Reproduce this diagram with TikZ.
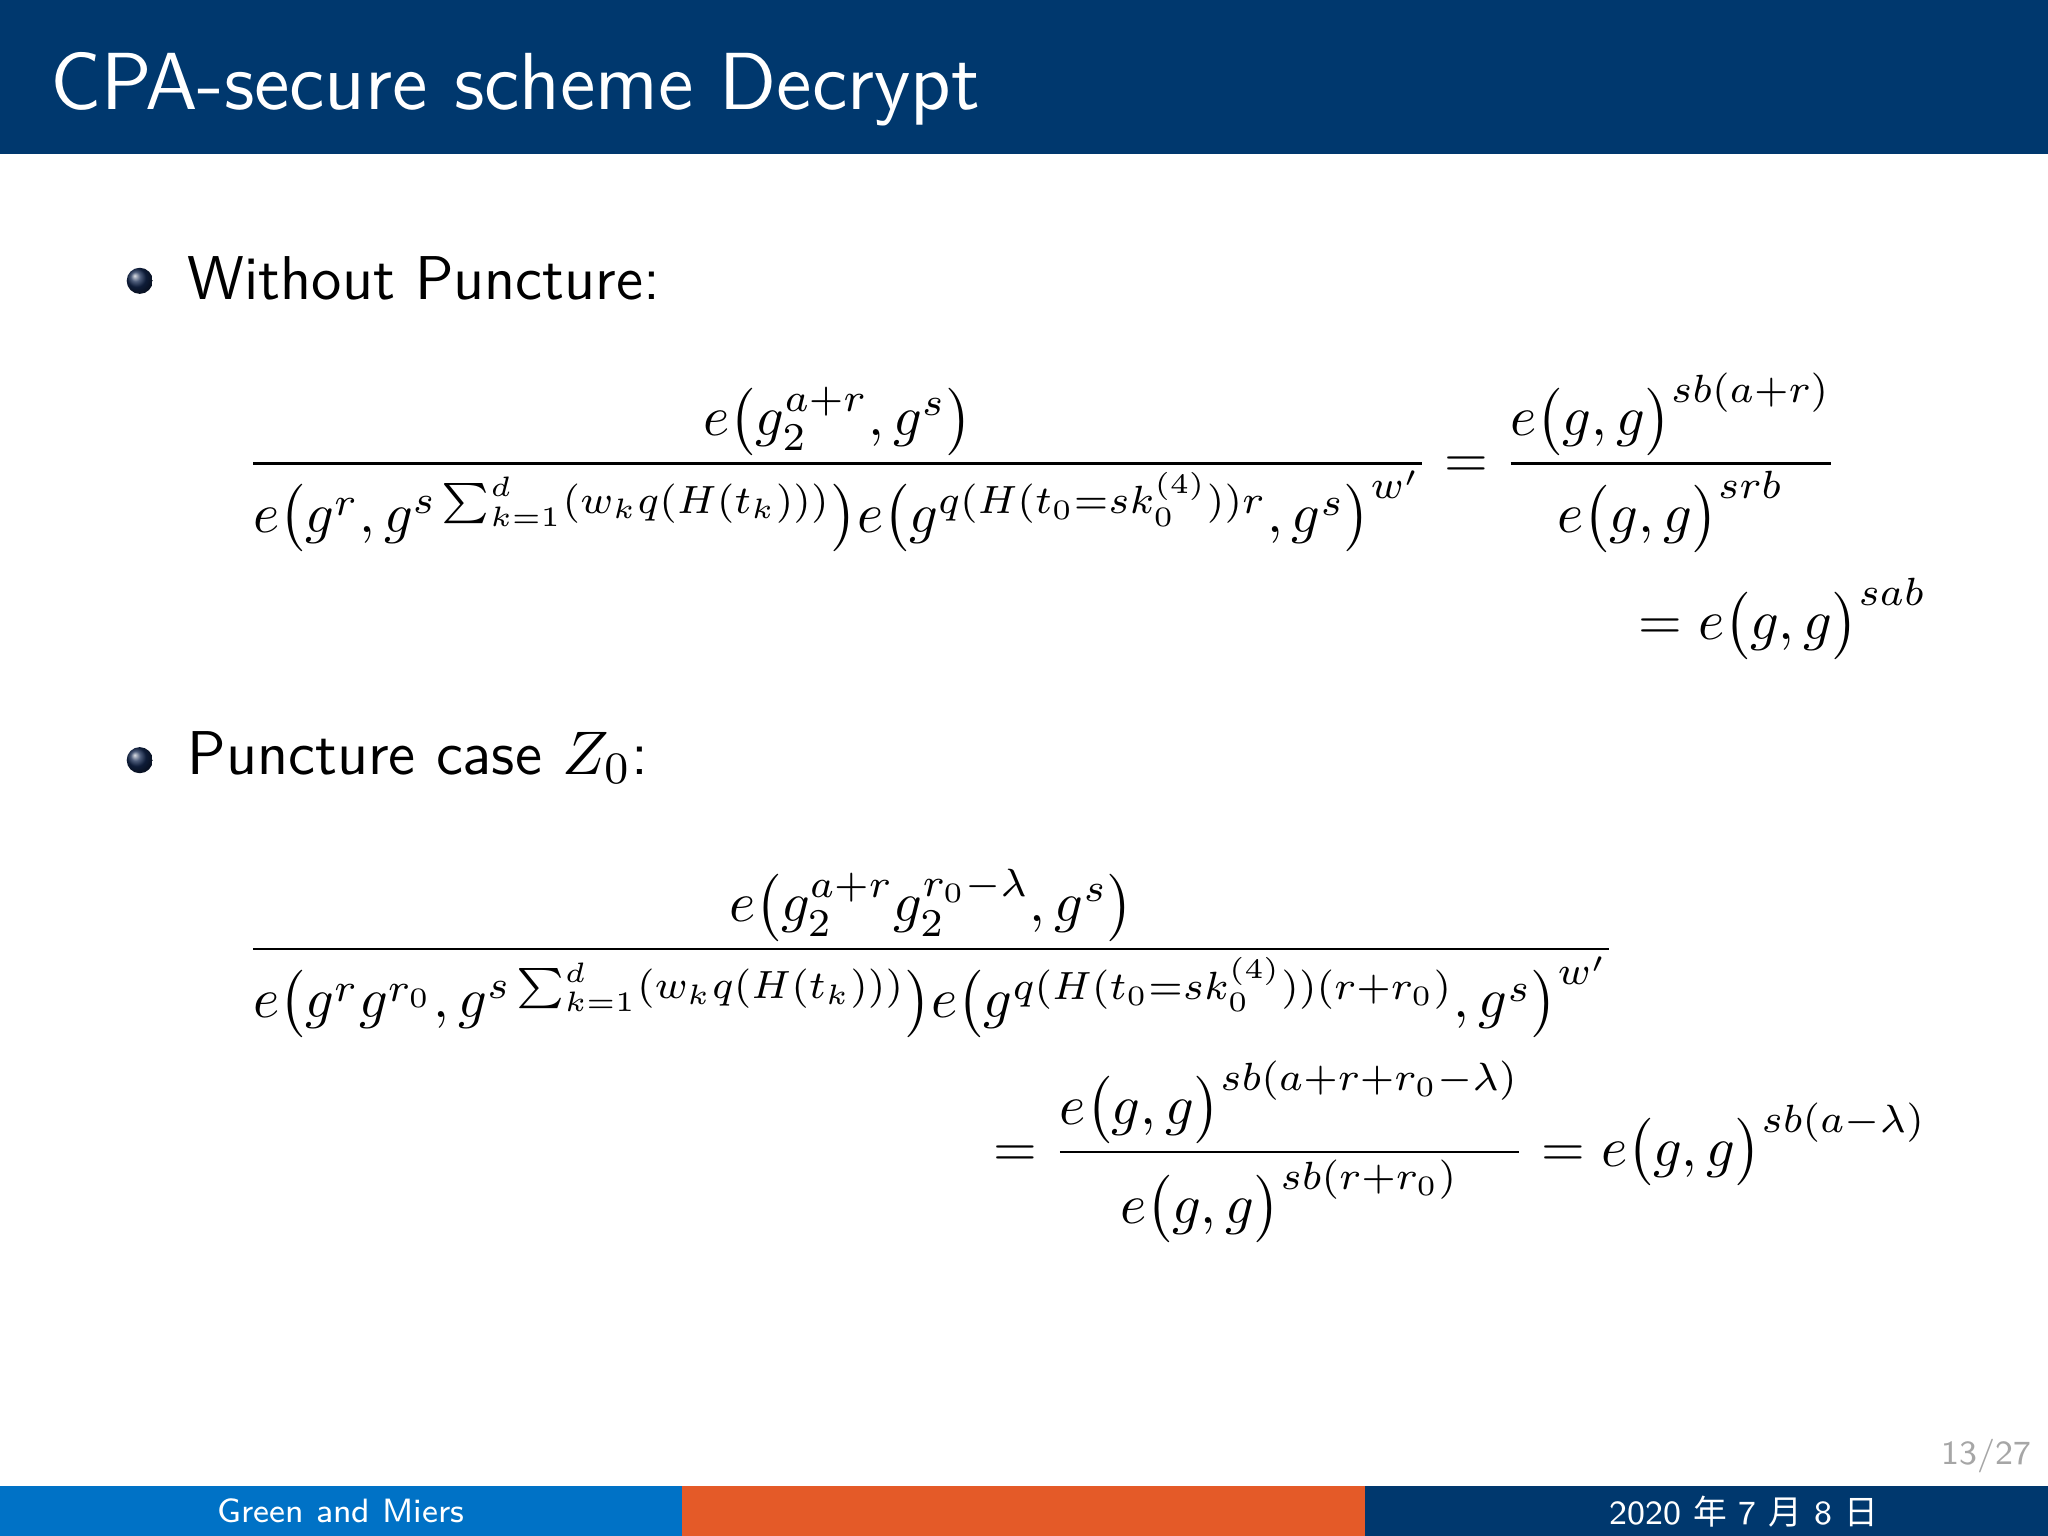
\documentclass[tikz,border=0pt]{standalone}
\usepackage{amsmath}
\usepackage{fontspec}
\newfontfamily\cjk{Noto Sans CJK SC}
\usetikzlibrary{shadings}
\definecolor{hdr}{RGB}{0,56,110}
\definecolor{fblue}{RGB}{0,114,198}
\definecolor{forange}{RGB}{228,90,40}
\definecolor{ball}{RGB}{20,40,80}
\tikzset{txt/.style={font=\sffamily\fontsize{11pt}{13pt}\selectfont, anchor=west, inner sep=0},
 eq/.style={font=\fontsize{10.2pt}{12pt}\selectfont, inner sep=0},
 foot/.style={font=\sffamily\fontsize{6pt}{7pt}\selectfont, inner sep=0}}
\begin{document}
\begin{tikzpicture}[x=0.008163cm,y=-0.008163cm]
\useasboundingbox (0,0) rectangle (1568,1176);
\fill[hdr] (0,0) rectangle (1568,118);
\node[anchor=west,text=white,font=\sffamily\fontsize{14.4pt}{16pt}\selectfont,inner sep=0] (title) at (38,68) {CPA-secure scheme Decrypt};
\shade[ball color=ball] (107,215) circle (10);
\node[txt] (b1) at (143,213) {Without Puncture:};
\shade[ball color=ball] (107,582) circle (10);
\node[txt] (b2) at (143,580) {Puncture case $Z_0$:};
\node[eq,anchor=west] (e1) at (188,354) {$\displaystyle \frac{e\bigl(g_2^{a+r},g^s\bigr)}{e\bigl(g^r,g^{s\sum_{k=1}^{d}(w_kq(H(t_k)))}\bigr)e\bigl(g^{q(H(t_0=sk_0^{(4)}))r},g^s\bigr)^{w'}} = \frac{e\bigl(g,g\bigr)^{sb(a+r)}}{e\bigl(g,g\bigr)^{srb}}$};
\node[eq,anchor=east] (e2) at (1476,474) {$\displaystyle = e\bigl(g,g\bigr)^{sab}$};
\node[eq,anchor=west] (e3) at (188,730) {$\displaystyle \frac{e\bigl(g_2^{a+r}g_2^{r_0-\lambda},g^s\bigr)}{e\bigl(g^rg^{r_0},g^{s\sum_{k=1}^{d}(w_kq(H(t_k)))}\bigr)e\bigl(g^{q(H(t_0=sk_0^{(4)}))(r+r_0)},g^s\bigr)^{w'}}$};
\node[eq,anchor=east] (e4) at (1476,882) {$\displaystyle = \frac{e\bigl(g,g\bigr)^{sb(a+r+r_0-\lambda)}}{e\bigl(g,g\bigr)^{sb(r+r_0)}} = e\bigl(g,g\bigr)^{sb(a-\lambda)}$};
\node[foot,text=gray!70,anchor=east] (pg) at (1556,1115) {13/27};
\fill[fblue] (0,1138) rectangle (522,1176);
\fill[forange] (522,1138) rectangle (1045,1176);
\fill[hdr] (1045,1138) rectangle (1568,1176);
\node[foot,text=white] (au) at (261,1157) {Green and Miers};
\node[foot,text=white] (dt) at (1335,1157) {2020 {\cjk 年} 7 {\cjk 月} 8 {\cjk 日}};
\end{tikzpicture}
\end{document}
